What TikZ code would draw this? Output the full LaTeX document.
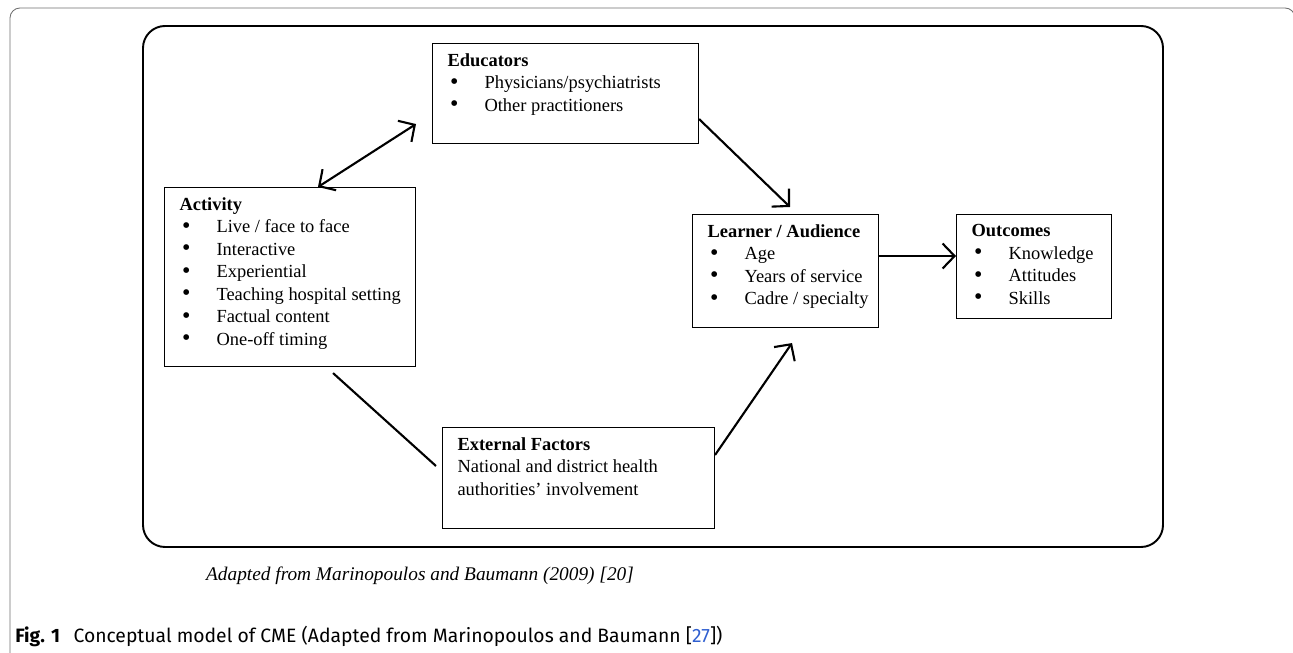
\documentclass[tikz,border=0pt]{standalone}
\usepackage{fontspec}
\usepackage{graphicx}
\usepackage{xcolor}
\setmainfont{Liberation Serif}
\newfontfamily\capfont{Fira Sans}
\usetikzlibrary{positioning,arrows.meta}

\definecolor{framegray}{HTML}{6E6E6E}
\definecolor{citeblue}{HTML}{2F5FD0}

% bullet line inside a box
\newcommand{\itm}[1]{\\\makebox[0.74cm][l]{\hspace{0.05cm}\smash{\raisebox{-0.08ex}{\scalebox{1.3}{\textbullet}}}}\mbox{#1}}
% top aligned box body: height, width, text
\newcommand{\boxbody}[3]{\parbox[c][#1][t]{#2}{#3}}

\begin{document}
\begin{tikzpicture}[
node distance=1.54cm,
every node/.style={font=\fontsize{10.5}{12.8}\selectfont},
box/.style={draw, line width=0.6pt, inner xsep=0.3cm, inner ysep=0.2cm, anchor=north west},
link/.style={line width=1.2pt},
arr/.style={link, -{Straight Barb[length=2.4mm,width=5mm,line width=1.2pt]}},
darr/.style={link, {Straight Barb[length=2.4mm,width=5mm,line width=1.2pt]}-{Straight Barb[length=2.4mm,width=5mm,line width=1.2pt]}}
]
\useasboundingbox (0,0) rectangle (25.86,-13.06);

% page frame and model frame
\draw[framegray, line width=0.5pt, rounded corners=0.2cm] (0.2,-13.3) -- (0.2,-0.16) -- (25.9,-0.16) -- (25.9,-13.3);
\draw[line width=1.1pt, rounded corners=0.44cm] (2.86,-0.52) rectangle (23.26,-10.94);

\node[box] (educ) at (8.64,-0.86) {\boxbody{1.6cm}{4.72cm}{\mbox{\textbf{Educators}}%
\itm{Physicians/psychiatrists}\itm{Other practitioners}}};
\node[box] (activity) at (3.28,-3.74) {\boxbody{3.18cm}{4.42cm}{\mbox{\textbf{Activity}}%
\itm{Live / face to face}\itm{Interactive}\itm{Experiential}%
\itm{Teaching hospital setting}\itm{Factual content}\itm{One-off timing}}};
\node[box] (learner) at (13.84,-4.28) {\boxbody{1.86cm}{3.12cm}{\mbox{\textbf{Learner / Audience}}%
\itm{Age}\itm{Years of service}\itm{Cadre / specialty}}};
\node[box, right=of learner.north east, anchor=north west] (outcomes) {\boxbody{1.68cm}{2.5cm}{\mbox{\textbf{Outcomes}}%
\itm{Knowledge}\itm{Attitudes}\itm{Skills}}};
\node[box] (external) at (8.84,-8.54) {\boxbody{1.62cm}{4.84cm}{\mbox{\textbf{External Factors}}\\
\mbox{National and district health}\\ \mbox{authorities’ involvement}}};

\draw[darr] ([xshift=3.08cm]activity.north west) -- ([xshift=-0.32cm,yshift=0.4cm]educ.south west);
\draw[arr] ([yshift=0.5cm]educ.south east) -- ([xshift=1.96cm,yshift=0.14cm]learner.north west);
\draw[link] ([xshift=3.38cm,yshift=-0.12cm]activity.south west) -- ([xshift=-0.12cm,yshift=-0.78cm]external.north west);
\draw[arr] ([yshift=-0.56cm]external.north east) -- ([xshift=2.0cm,yshift=-0.3cm]learner.south west);
\draw[arr] ([yshift=0.3cm]learner.east) -- ([yshift=0.3cm]learner.east -| outcomes.west);

% captions
\node[font=\fontsize{11}{13}\selectfont\itshape] (source) at (8.4,-11.52) {Adapted from Marinopoulos and Baumann (2009) [20]};
\node[anchor=base west, inner sep=0pt, font=\capfont\fontsize{11}{13}\selectfont] (figcap) at (0.3,-12.84)
{\textbf{Fig. 1}\hspace{0.7em}Conceptual model of CME (Adapted from Marinopoulos and Baumann [\textcolor{citeblue}{27}])};
\end{tikzpicture}
\end{document}
